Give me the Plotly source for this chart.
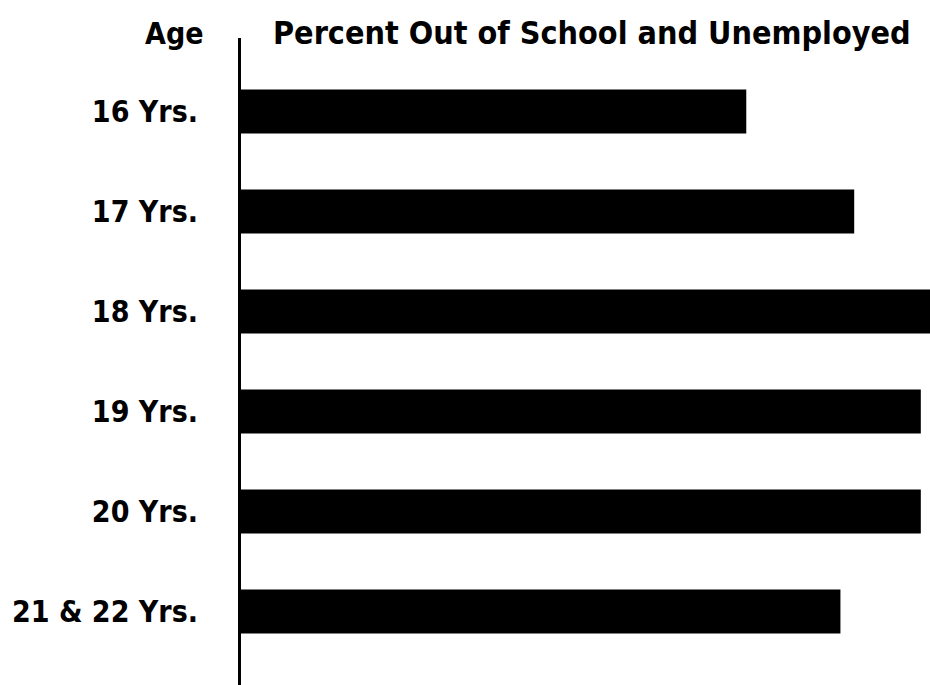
import plotly.graph_objects as go

ages = ["16 Yrs.", "17 Yrs.", "18 Yrs.", "19 Yrs.", "20 Yrs.", "21 & 22 Yrs."]
percent_out = [22.0, 26.7, 30.5, 29.6, 29.6, 26.1]

FONT = "DejaVu Sans Condensed, Roboto Condensed, Roboto, sans-serif"

fig = go.Figure(go.Bar(
    x=percent_out, y=ages, orientation="h",
    marker=dict(color="black", line=dict(width=0)),
    width=0.44, hoverinfo="x+y",
))

fig.update_layout(
    width=930, height=685,
    margin=dict(l=241, r=0, t=38, b=0, autoexpand=False),
    paper_bgcolor="white", plot_bgcolor="white",
    showlegend=False,
    xaxis=dict(range=[0, 30], visible=False, fixedrange=True, automargin=False),
    yaxis=dict(
        range=[5.735, -0.735], showgrid=False, zeroline=False, automargin=False,
        showline=True, linecolor="black", linewidth=3,
        ticks="", ticklabelstandoff=34,
        tickfont=dict(family=FONT, size=30, color="black", weight="bold"),
    ),
    annotations=[
        dict(text="Age", xref="paper", yref="paper", x=-0.0507, y=1.0,
             xanchor="right", yanchor="middle", yshift=5, showarrow=False,
             font=dict(family=FONT, size=30, color="black", weight="bold")),
        dict(text="Percent Out of School and Unemployed", xref="paper", yref="paper",
             x=0.0435, y=1.0, xanchor="left", yanchor="middle", yshift=5, showarrow=False,
             font=dict(family=FONT, size=32, color="black", weight="bold")),
    ],
)

fig.write_html(
    "out.html",
    config={"displayModeBar": False},
    post_script="document.body.style.margin='0';document.body.style.overflow='hidden';",
)
